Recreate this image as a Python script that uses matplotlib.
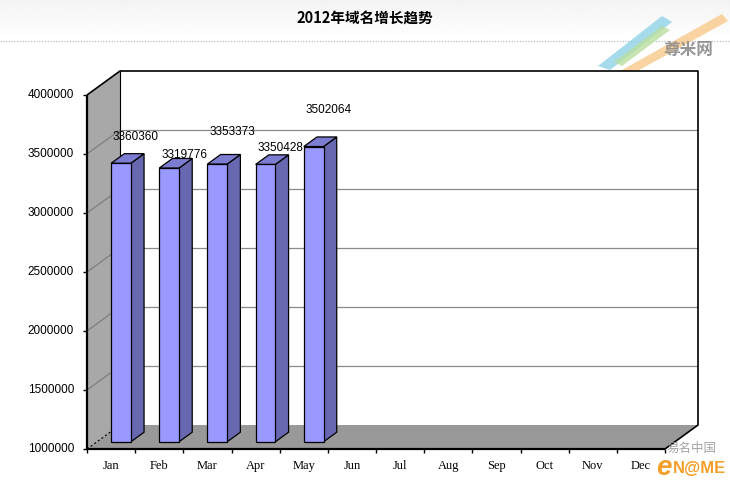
import numpy as np
import matplotlib
matplotlib.use("Agg")
import matplotlib.pyplot as plt
from matplotlib.patches import Polygon

plt.rcParams['font.family'] = ['Liberation Sans', 'Noto Sans CJK SC', 'DejaVu Sans']

# ---- data ----
months = ["Jan", "Feb", "Mar", "Apr", "May", "Jun", "Jul", "Aug", "Sep", "Oct", "Nov", "Dec"]
values = [3360360, 3319776, 3353373, 3350428, 3502064]
y_ticks = [1000000, 1500000, 2000000, 2500000, 3000000, 3500000, 4000000]
title = "2012年域名增长趋势"

# ---- style ----
label_rise_px = [26, 13, 32, 16, 37]   # irregular label placement seen in reference
W, H = 730, 487
fig = plt.figure(figsize=(W / 100, H / 100), dpi=100)
fig.patch.set_facecolor("white")

# background / title band
bg = fig.add_axes([0, 0, 1, 1])
bg.set_xlim(0, W)
bg.set_ylim(H, 0)
bg.axis("off")
grad = np.linspace(0.955, 1.0, 50).reshape(-1, 1)
bg.imshow(grad, cmap="gray", vmin=0, vmax=1, extent=[0, W, 40, 0], aspect="auto", zorder=0)
bg.plot([0, W], [40.5, 40.5], color="#b0b0b0", lw=0.8, ls=(0, (1, 1.5)), zorder=1)
bg.text(365, 18, title, ha="center", va="center", fontsize=10.5, fontweight="bold",
        family=["Noto Sans CJK SC"], color="black")

# main (front plane) axes
L, R, B, T = 87, 665, 449, 95
ax = fig.add_axes([L / W, (H - B) / H, (R - L) / W, (B - T) / H])
ax.set_xlim(0, len(months))
ax.set_ylim(y_ticks[0], y_ticks[-1])
ax.axis("off")
ax.patch.set_visible(False)

ppx = len(months) / (R - L)
ppy = (y_ticks[-1] - y_ticks[0]) / (B - T)
DX = 33 * ppx
DY = 24 * ppy
ymin, ymax = y_ticks[0], y_ticks[-1]
nx = len(months)


def P(x, y, d):
    return (x + d * DX, y + d * DY)


def poly(pts, fc, ec="black", lw=0.9, z=2):
    ax.add_patch(Polygon(pts, closed=True, facecolor=fc, edgecolor=ec, lw=lw, zorder=z,
                         clip_on=False, joinstyle="miter"))


def line(pts, color="black", lw=1.0, ls="-", z=3):
    xs, ys = zip(*pts)
    ax.plot(xs, ys, color=color, lw=lw, ls=ls, zorder=z, clip_on=False, solid_capstyle="butt")


# back wall
poly([P(0, ymin, 1), P(nx, ymin, 1), P(nx, ymax, 1), P(0, ymax, 1)], "white", ec="none", z=1)
# gridlines on back wall and side wall
for t in y_ticks[1:-1]:
    line([P(0, t, 1), P(nx, t, 1)], color="#8a8a8a", lw=0.9, z=1.5)
# side wall
poly([P(0, ymin, 0), P(0, ymin, 1), P(0, ymax, 1), P(0, ymax, 0)], "#a8a8a8", ec="none", z=1.6)
for t in y_ticks[1:-1]:
    line([P(0, t, 0), P(0, t, 1)], color="#7a7a7a", lw=0.8, z=1.7)
# floor
poly([P(0, ymin, 0), P(nx, ymin, 0), P(nx, ymin, 1), P(0, ymin, 1)], "#999999", ec="none", z=1.8)
line([P(0, ymin, 0), P(0, ymin, 1)], color="black", lw=0.8, ls=(0, (2, 2)), z=1.9)

# wall outlines
line([P(0, ymax, 0), P(0, ymax, 1), P(nx, ymax, 1), P(nx, ymin, 1), P(nx, ymin, 0)],
     color="black", lw=1.2, z=1.9)
line([P(0, ymin, 1), P(0, ymax, 1)], color="black", lw=0.8, z=1.9)

# bars
bw = 0.41
d0, d1 = 0.3, 0.7
for i, v in enumerate(values):
    xc = i + 0.5
    x0, x1 = xc - bw / 2, xc + bw / 2
    # side face
    poly([P(x1, ymin, d0), P(x1, ymin, d1), P(x1, v, d1), P(x1, v, d0)], "#6868b0", z=3)
    # top face
    poly([P(x0, v, d0), P(x1, v, d0), P(x1, v, d1), P(x0, v, d1)], "#7c7cd0", z=3)
    # front face
    poly([P(x0, ymin, d0), P(x1, ymin, d0), P(x1, v, d0), P(x0, v, d0)], "#9999ff", z=3.1)
    ax.annotate(f"{v}", xy=P(xc, v, d0), xytext=(15, label_rise_px[i]),
                textcoords="offset pixels", ha="center", va="center", fontsize=8.5,
                color="black", zorder=5, annotation_clip=False)

# front axes lines
line([P(0, ymin, 0), P(0, ymax, 0)], color="black", lw=1.6, z=4)
line([P(0, ymin, 0), P(nx, ymin, 0)], color="black", lw=1.6, z=4)
tx = 4 * ppx
ty = 4 * ppy
for t in y_ticks:
    line([P(0, t, 0), (0 - tx, t)], color="black", lw=1.0, z=4)
    ax.text(-13 * ppx, t, f"{t}", ha="right", va="center", fontsize=8.5, color="black")
for k in range(nx + 1):
    line([(k, ymin), (k, ymin - ty)], color="black", lw=1.0, z=4)
for i, m in enumerate(months):
    ax.text(i + 0.5, ymin - 17 * ppy, m, ha="center", va="center", fontsize=9,
            family=["Liberation Serif"], color="black")

# watermarks (decorative)
bg.add_patch(Polygon([(598, 66), (662, 16), (672, 22), (610, 70)], closed=True,
                     facecolor="#8fd3e6", edgecolor="none", alpha=0.8, zorder=2))
bg.add_patch(Polygon([(622, 70), (722, 14), (728, 21), (632, 74)], closed=True,
                     facecolor="#f8c98a", edgecolor="none", alpha=0.8, zorder=2))
bg.add_patch(Polygon([(614, 62), (662, 26), (670, 30), (622, 66)], closed=True,
                     facecolor="#b9dfa0", edgecolor="none", alpha=0.8, zorder=2))
bg.text(688, 50, "尊米网", ha="center", va="center", fontsize=12, fontweight="bold",
        family=["Noto Sans CJK SC"], color="#8a8a8a", alpha=0.9, zorder=3)

fig2 = fig.add_axes([0, 0, 1, 1])
fig2.set_xlim(0, W)
fig2.set_ylim(H, 0)
fig2.axis("off")
fig2.patch.set_visible(False)
fig2.text(692, 448, "易名中国", ha="center", va="center", fontsize=9,
          family=["Noto Sans CJK SC"], color="#9a9a9a", alpha=0.9)
fig2.text(664, 468, "e", ha="center", va="center", fontsize=20, fontweight="bold",
          fontstyle="italic", color="#f39a1e", alpha=0.95)
fig2.text(700, 468, "N@ME", ha="center", va="center", fontsize=12, fontweight="bold",
          color="#f39a1e", alpha=0.95)

fig.savefig("out.png", dpi=100)
